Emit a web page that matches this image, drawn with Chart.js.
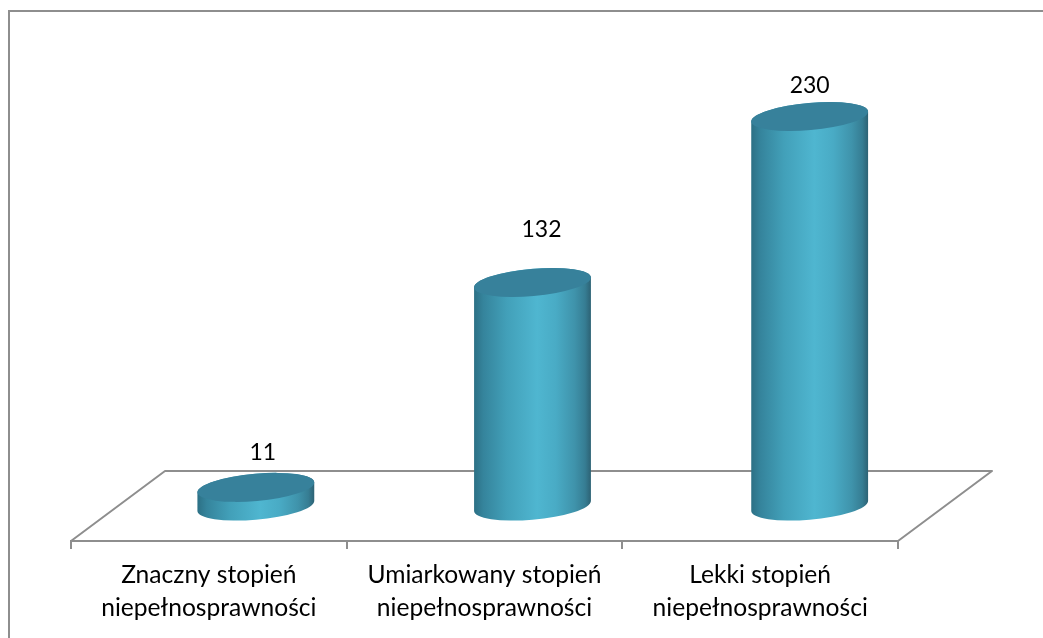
<!DOCTYPE html>
<html>
<head>
<meta charset="utf-8">
<title>Stopień niepełnosprawności</title>
<style>
  html, body { margin: 0; padding: 0; background: #fff; }
  canvas { display: block; }
</style>
<script src="https://cdn.jsdelivr.net/npm/chart.js@4"></script>
</head>
<body>
<canvas id="chart" width="1043" height="638"></canvas>
<script>
const categories = [
  ['Znaczny stopień', 'niepełnosprawności'],
  ['Umiarkowany stopień', 'niepełnosprawności'],
  ['Lekki stopień', 'niepełnosprawności']
];
const values = [11, 132, 230];
const valueLabels = ['11', '132', '230'];

// label nudges, the original labels were moved by hand
const labelNudge = [[7, -35], [9, -53], [0, -31]];
// the bars sit a little wider apart than the axis ticks
const barNudge = [0, 1, 2.5];

const FONT = 'Lato, Carlito, sans-serif';
const AXIS_COLOR = '#8e8e8e';
const AXIS_WIDTH = 2;
// half of the floor depth, bars stand in the middle of it
const DEPTH_X = 47;
const DEPTH_Y = 35;
const TILT = -5.1 * Math.PI / 180;
const CAP_RATIO = 13.6 / 58.7;

const framePlugin = {
  id: 'frame',
  beforeDraw(chart) {
    const ctx = chart.ctx;
    ctx.save();
    ctx.strokeStyle = AXIS_COLOR;
    ctx.lineWidth = AXIS_WIDTH;
    ctx.beginPath();
    ctx.moveTo(9, chart.height);
    ctx.lineTo(9, 11);
    ctx.lineTo(chart.width, 11);
    ctx.stroke();
    ctx.restore();
  }
};

const floorPlugin = {
  id: 'floor',
  beforeDatasetsDraw(chart) {
    const a = chart.chartArea;
    const ctx = chart.ctx;
    ctx.save();
    ctx.strokeStyle = AXIS_COLOR;
    ctx.lineWidth = AXIS_WIDTH;
    ctx.lineJoin = 'round';
    ctx.beginPath();
    ctx.moveTo(a.left, a.bottom);
    ctx.lineTo(a.left + DEPTH_X * 2, a.bottom - DEPTH_Y * 2);
    ctx.lineTo(a.right + DEPTH_X * 2, a.bottom - DEPTH_Y * 2);
    ctx.lineTo(a.right, a.bottom);
    ctx.stroke();
    ctx.restore();
  }
};

const cylinderPlugin = {
  id: 'cylinder',
  afterDatasetsDraw(chart) {
    const ctx = chart.ctx;
    chart.getDatasetMeta(0).data.forEach((bar, i) => {
      const cx = bar.x + DEPTH_X + barNudge[i];
      const top = bar.y - DEPTH_Y;
      const bottom = bar.base - DEPTH_Y;
      const a = bar.width / 2 + 0.2;
      const b = a * CAP_RATIO;
      const t0 = Math.atan(-(b / a) * Math.tan(TILT));

      const grad = ctx.createLinearGradient(cx - bar.width / 2, 0, cx + bar.width / 2, 0);
      grad.addColorStop(0, '#2c7085');
      grad.addColorStop(0.08, '#35849c');
      grad.addColorStop(0.28, '#42a0b9');
      grad.addColorStop(0.54, '#4fb6d0');
      grad.addColorStop(0.7, '#49abc5');
      grad.addColorStop(0.86, '#3f93ab');
      grad.addColorStop(0.95, '#367d93');
      grad.addColorStop(1, '#2d6274');

      ctx.save();
      ctx.fillStyle = grad;
      ctx.beginPath();
      ctx.ellipse(cx, bottom, a, b, TILT, t0, t0 + Math.PI);
      ctx.ellipse(cx, top, a, b, TILT, t0 + Math.PI, t0);
      ctx.closePath();
      ctx.fill();

      ctx.fillStyle = '#37819b';
      ctx.beginPath();
      ctx.ellipse(cx, top, a, b, TILT, 0, Math.PI * 2);
      ctx.fill();

      ctx.fillStyle = '#000';
      ctx.font = '23px ' + FONT;
      ctx.textAlign = 'center';
      ctx.textBaseline = 'middle';
      ctx.fillText(valueLabels[i], cx + labelNudge[i][0], top + labelNudge[i][1]);
      ctx.restore();
    });
  }
};

new Chart(document.getElementById('chart'), {
  type: 'bar',
  data: {
    labels: categories,
    datasets: [{
      data: values,
      backgroundColor: 'transparent',
      borderWidth: 0,
      barPercentage: 0.424,
      categoryPercentage: 1
    }]
  },
  options: {
    responsive: false,
    animation: false,
    layout: { padding: { left: 71, right: 145, top: 33, bottom: 0 } },
    plugins: {
      legend: { display: false },
      tooltip: { enabled: false },
      title: { display: false }
    },
    scales: {
      x: {
        afterFit(scale) { scale.height = 97; },
        border: { color: AXIS_COLOR, width: AXIS_WIDTH },
        grid: { drawOnChartArea: false, color: AXIS_COLOR, lineWidth: AXIS_WIDTH, tickLength: 8, offset: true },
        ticks: {
          color: '#000',
          autoSkip: false,
          maxRotation: 0,
          padding: 10,
          font: { family: FONT, size: 24.6, lineHeight: 1.34 }
        }
      },
      y: {
        display: false,
        min: 0,
        max: 300
      }
    }
  },
  plugins: [framePlugin, floorPlugin, cylinderPlugin]
});
</script>
</body>
</html>
